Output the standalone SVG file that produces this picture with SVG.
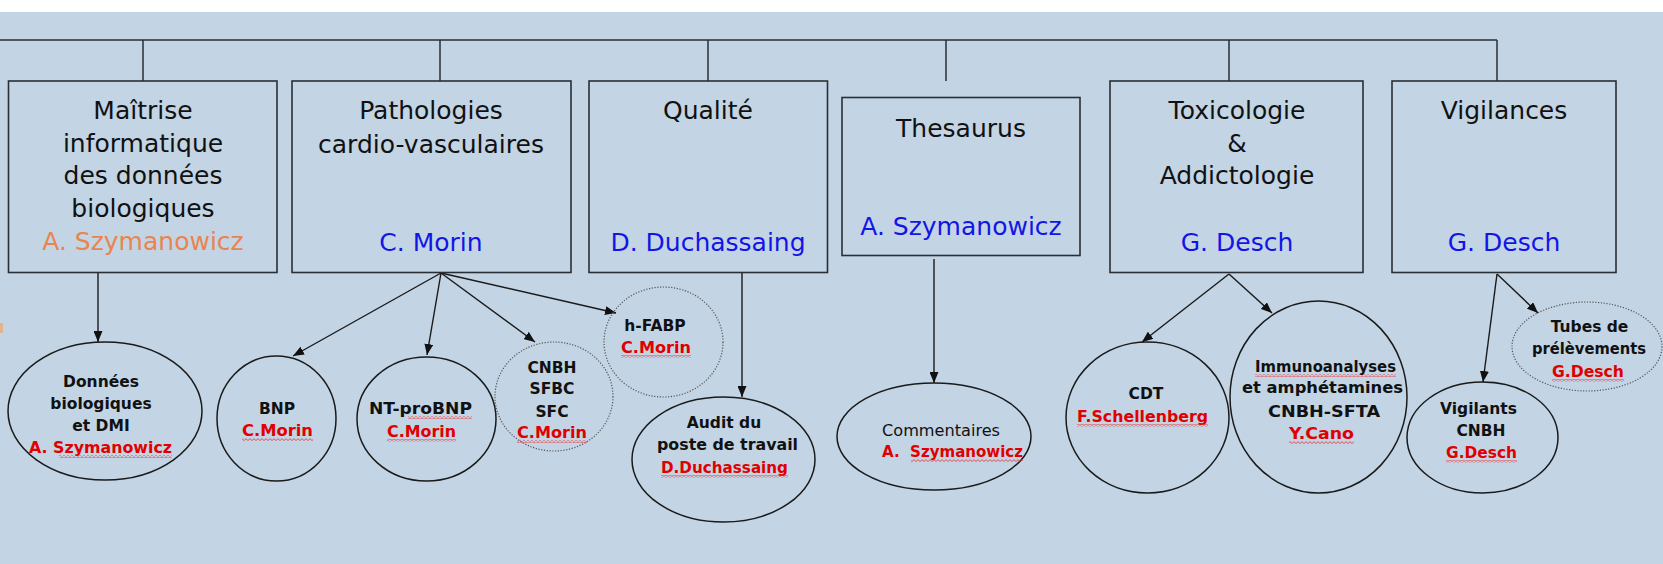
<svg xmlns="http://www.w3.org/2000/svg" width="1663" height="564" viewBox="0 0 1663 564">
<defs>
<style>
.box{fill:none;stroke:#2a2e35;stroke-width:1.6}
.ell{fill:none;stroke:#1a1a1a;stroke-width:1.5}
.dot{fill:none;stroke:#555;stroke-width:1.2;stroke-dasharray:1.2 1.6}
.ln{fill:none;stroke:#2a2e35;stroke-width:1.5}
.ar{fill:none;stroke:#1a1a1a;stroke-width:1.4;marker-end:url(#ah)}
.t{font-family:"DejaVu Sans",Verdana,sans-serif;font-size:25px;fill:#111;text-anchor:middle}
.b{fill:#1414e6}
.o{fill:#e8854f}
.s{font-family:"DejaVu Sans",Verdana,sans-serif;font-size:15.5px;font-weight:bold;fill:#111;text-anchor:middle}
.r{fill:#e00000}
.wv{fill:url(#wave)}
</style>
<marker id="ah" markerUnits="userSpaceOnUse" markerWidth="11" markerHeight="9" refX="11" refY="4.5" orient="auto">
<path d="M0,0 L11,4.5 L0,9 z" fill="#111"/>
</marker>
<pattern id="wave" patternUnits="userSpaceOnUse" width="4" height="3">
<path d="M0,2.5 L2,0.7 L4,2.5" fill="none" stroke="#e83030" stroke-width="0.8"/>
</pattern>
</defs>
<rect x="0" y="0" width="1663" height="564" fill="#c3d4e4"/>
<rect x="0" y="0" width="1663" height="12" fill="#ffffff"/>
<rect x="0" y="323" width="3" height="10" fill="#e2b48e"/>

<g id="connectors">
<path class="ln" d="M0,40 H1497 M143,40 V81 M440,40 V81 M708,40 V81 M946,40 V81 M1229,40 V81 M1497,40 V81"/>
<path class="ar" d="M98,272.5 V342"/>
<path class="ar" d="M441,273 L293,356"/>
<path class="ar" d="M441,273 L427,355"/>
<path class="ar" d="M441,273 L535,342"/>
<path class="ar" d="M441,273 L616,313"/>
<path class="ar" d="M742,272.5 V397"/>
<path class="ar" d="M934,259 V383"/>
<path class="ar" d="M1229,274 L1142,342"/>
<path class="ar" d="M1229,274 L1272,313"/>
<path class="ar" d="M1497,274 L1483,382"/>
<path class="ar" d="M1497,274 L1538,313"/>
</g>

<g id="maitrise">
<rect class="box" x="8.5" y="81" width="268.5" height="191.5"/>
<text class="t" x="143" y="119">Maîtrise</text>
<text class="t" x="143" y="152">informatique</text>
<text class="t" x="143" y="184">des données</text>
<text class="t" x="143" y="217">biologiques</text>
<text class="t o" x="143" y="250">A. Szymanowicz</text>
</g>
<g id="pathologies">
<rect class="box" x="292" y="81" width="279" height="191.5"/>
<text class="t" x="431" y="119">Pathologies</text>
<text class="t" x="431" y="153">cardio-vasculaires</text>
<text class="t b" x="431" y="251">C. Morin</text>
</g>
<g id="qualite">
<rect class="box" x="589" y="81" width="238.5" height="191.5"/>
<text class="t" x="708" y="119">Qualité</text>
<text class="t b" x="708" y="251">D. Duchassaing</text>
</g>
<g id="thesaurus">
<rect class="box" x="842" y="97.5" width="238" height="158"/>
<text class="t" x="961" y="137">Thesaurus</text>
<text class="t b" x="961" y="235">A. Szymanowicz</text>
</g>
<g id="toxicologie">
<rect class="box" x="1110" y="81" width="253" height="191.5"/>
<text class="t" x="1237" y="119">Toxicologie</text>
<text class="t" x="1237" y="152">&amp;</text>
<text class="t" x="1237" y="184">Addictologie</text>
<text class="t b" x="1237" y="251">G. Desch</text>
</g>
<g id="vigilances">
<rect class="box" x="1392" y="81" width="224" height="191.5"/>
<text class="t" x="1504" y="119">Vigilances</text>
<text class="t b" x="1504" y="251">G. Desch</text>
</g>

<g id="donnees">
<ellipse class="ell" cx="105" cy="411" rx="97" ry="69"/>
<text class="s" x="101" y="387">Données</text>
<text class="s" x="101" y="409">biologiques</text>
<text class="s" x="101" y="431">et DMI</text>
<text class="s r" x="100.5" y="453" textLength="143" lengthAdjust="spacingAndGlyphs">A. Szymanowicz</text>
<rect class="wv" x="59" y="455" width="113" height="3"/>
</g>
<g id="bnp">
<ellipse class="ell" cx="276.5" cy="418.5" rx="59.5" ry="62.5"/>
<text class="s" x="277" y="414">BNP</text>
<text class="s r" x="277.5" y="436" textLength="71" lengthAdjust="spacingAndGlyphs">C.Morin</text>
<rect class="wv" x="242" y="438" width="71" height="3"/>
</g>
<g id="ntprobnp">
<ellipse class="ell" cx="426.5" cy="419" rx="69.5" ry="62"/>
<text class="s" x="420.5" y="414" textLength="103" lengthAdjust="spacingAndGlyphs">NT-proBNP</text>
<rect class="wv" x="408" y="416" width="64" height="3"/>
<text class="s r" x="421.5" y="437" textLength="69" lengthAdjust="spacingAndGlyphs">C.Morin</text>
<rect class="wv" x="387" y="439" width="69" height="3"/>
</g>
<g id="cnbh">
<ellipse class="dot" cx="554" cy="396.5" rx="59" ry="54.5"/>
<text class="s" x="552" y="373">CNBH</text>
<text class="s" x="552" y="394">SFBC</text>
<text class="s" x="552" y="417">SFC</text>
<text class="s r" x="552" y="438" textLength="70" lengthAdjust="spacingAndGlyphs">C.Morin</text>
<rect class="wv" x="517" y="440" width="70" height="3"/>
</g>
<g id="hfabp">
<ellipse class="dot" cx="663.5" cy="342" rx="59.5" ry="55"/>
<text class="s" x="655" y="331">h-FABP</text>
<text class="s r" x="656" y="353" textLength="70" lengthAdjust="spacingAndGlyphs">C.Morin</text>
<rect class="wv" x="621" y="355" width="70" height="3"/>
</g>
<g id="audit">
<ellipse class="ell" cx="723.5" cy="459.5" rx="91.5" ry="62.5"/>
<text class="s" x="724" y="428">Audit du</text>
<text class="s" x="727.5" y="450" textLength="141" lengthAdjust="spacingAndGlyphs">poste de travail</text>
<text class="s r" x="724.5" y="473" textLength="127" lengthAdjust="spacingAndGlyphs">D.Duchassaing</text>
<rect class="wv" x="661" y="475" width="127" height="3"/>
</g>
<g id="commentaires">
<ellipse class="ell" cx="934" cy="436.5" rx="97" ry="53.5"/>
<text x="882" y="436" font-family="DejaVu Sans, Verdana, sans-serif" font-size="16" fill="#111" textLength="118" lengthAdjust="spacingAndGlyphs">Commentaires</text>
<text class="s r" x="882" y="457" style="text-anchor:start;white-space:pre" textLength="141" lengthAdjust="spacingAndGlyphs">A.  Szymanowicz</text>
<rect class="wv" x="911" y="459" width="112" height="3"/>
</g>
<g id="cdt">
<ellipse class="ell" cx="1147.5" cy="417.5" rx="81.5" ry="75.5"/>
<text class="s" x="1146" y="399">CDT</text>
<text class="s r" x="1142.5" y="422" textLength="131" lengthAdjust="spacingAndGlyphs">F.Schellenberg</text>
<rect class="wv" x="1077" y="424" width="131" height="3"/>
</g>
<g id="immuno">
<ellipse class="ell" cx="1318.5" cy="397" rx="88.5" ry="96"/>
<text class="s" x="1325.5" y="372" textLength="141" lengthAdjust="spacingAndGlyphs">Immunoanalyses</text>
<rect class="wv" x="1255" y="374" width="141" height="3"/>
<text class="s" x="1322.5" y="393" textLength="161" lengthAdjust="spacingAndGlyphs">et amphétamines</text>
<text class="s" x="1324" y="417" textLength="112" lengthAdjust="spacingAndGlyphs">CNBH-SFTA</text>
<text class="s r" x="1321.5" y="439" textLength="65" lengthAdjust="spacingAndGlyphs">Y.Cano</text>
<rect class="wv" x="1289" y="441" width="65" height="3"/>
</g>
<g id="vigilants">
<ellipse class="ell" cx="1482.5" cy="437.5" rx="75.5" ry="55.5"/>
<text class="s" x="1478.5" y="414">Vigilants</text>
<text class="s" x="1481" y="436">CNBH</text>
<text class="s r" x="1481.5" y="458" textLength="71" lengthAdjust="spacingAndGlyphs">G.Desch</text>
<rect class="wv" x="1446" y="460" width="71" height="3"/>
</g>
<g id="tubes">
<ellipse class="dot" cx="1587" cy="346.5" rx="75" ry="44.5"/>
<text class="s" x="1589.5" y="332">Tubes de</text>
<text class="s" x="1589" y="354" textLength="114" lengthAdjust="spacingAndGlyphs">prélèvements</text>
<text class="s r" x="1588" y="377" textLength="72" lengthAdjust="spacingAndGlyphs">G.Desch</text>
<rect class="wv" x="1552" y="379" width="72" height="3"/>
</g>
</svg>
